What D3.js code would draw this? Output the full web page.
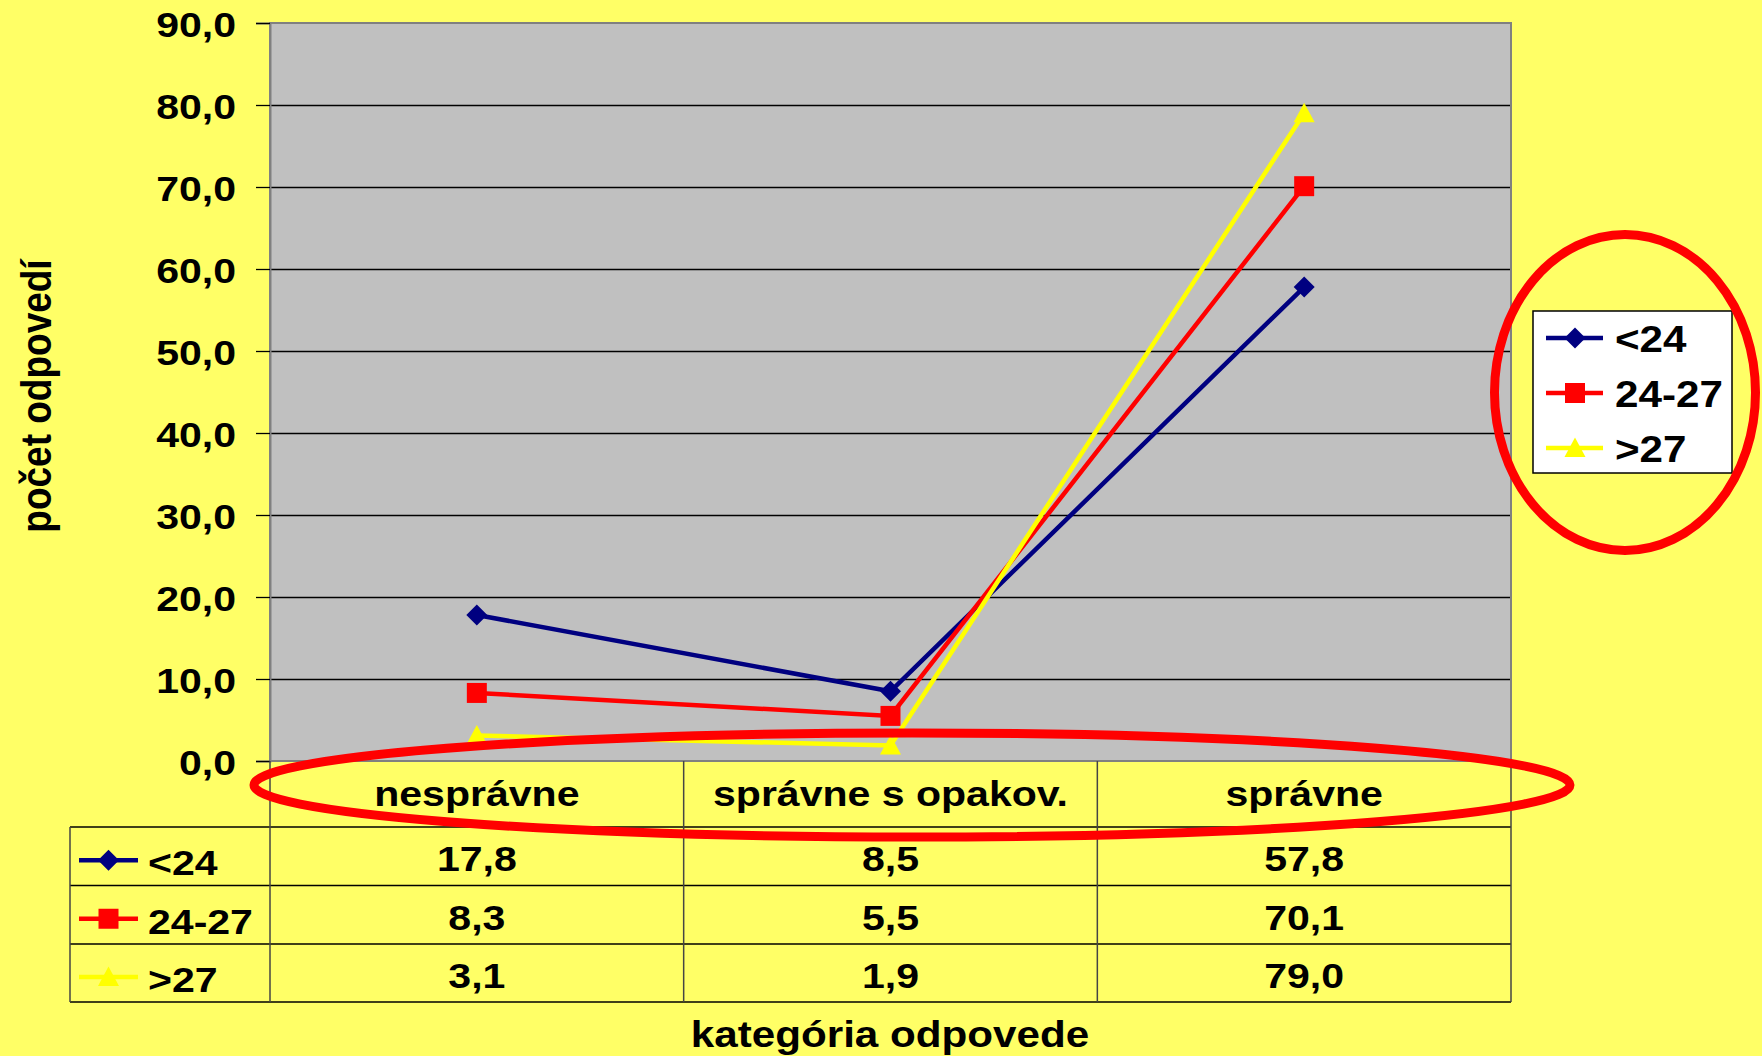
<!DOCTYPE html>
<meta charset="utf-8">
<style>
    body { margin: 0; background: #ffff66; }
    svg { display: block; }
    text { font-family: "Liberation Sans", Arial, sans-serif; font-weight: bold; fill: #000; }
</style>
<svg width="1762" height="1056"></svg>
<script src="https://d3js.org/d3.v7.min.js"></script>
<script>

    var categories = ["nesprávne", "správne s opakov.", "správne"];
    var seriesNames = ["<24", "24-27", ">27"];
    var valuesUnder24 = [17.8, 8.5, 57.8];
    var values24to27 = [8.3, 5.5, 70.1];
    var valuesOver27 = [3.1, 1.9, 79.0];
    var yTicks = [0, 10, 20, 30, 40, 50, 60, 70, 80, 90];

    var series = [
        {name: seriesNames[0], values: valuesUnder24, color: "#000080", shape: "diamond"},
        {name: seriesNames[1], values: values24to27, color: "#ff0000", shape: "square"},
        {name: seriesNames[2], values: valuesOver27, color: "#ffff00", shape: "triangle"}
    ];

    var svg = d3.select("svg");
    var SX = 1.14;   // text in the original is drawn a bit wider than normal
    var lineW = 4.5;

    var plotLeft = 270, plotRight = 1511, plotTop = 23, plotBottom = 761;
    var rowLines = [827, 885.5, 944, 1002];
    var tableLeft = 70;

    var x = d3.scaleBand().domain(categories).range([plotLeft, plotRight]);
    var y = d3.scaleLinear().domain([0, 90]).range([plotBottom, plotTop]);
    var fmt = function(v) { return d3.format(".1f")(v).replace(".", ","); };

    function stretch(sel) {
        sel.each(function() {
            var t = d3.select(this);
            var tx = +t.attr("x") || 0, ty = +t.attr("y") || 0;
            var extra = t.attr("data-rot") ? " rotate(" + t.attr("data-rot") + ")" : "";
            t.attr("x", 0).attr("y", 0)
                .attr("transform", "translate(" + tx + "," + ty + ") scale(" + SX + ",1)" + extra);
        });
    }

    function symbolPath(shape) {
        if (shape === "diamond") return "M0,-10.5L10.5,0L0,10.5L-10.5,0Z";
        if (shape === "square") return "M-10,-10H10V10H-10Z";
        return "M0,-10.5L10.5,9L-10.5,9Z";
    }

    // plot area
    svg.append("rect")
            .attr("x", plotLeft).attr("y", plotTop)
            .attr("width", plotRight - plotLeft).attr("height", plotBottom - plotTop)
            .attr("fill", "#c0c0c0");

    // grid lines
    svg.append("g")
            .attr("transform", "translate(" + plotLeft + ",0)")
            .call(d3.axisLeft(y).tickValues(yTicks.slice(1, -1)).tickSize(-(plotRight - plotLeft)).tickFormat(""))
            .call(function(g) { g.select(".domain").remove(); })
            .selectAll("line").attr("stroke", "#000").attr("stroke-width", 1.3);

    // plot border
    svg.append("rect")
            .attr("x", plotLeft).attr("y", plotTop)
            .attr("width", plotRight - plotLeft).attr("height", plotBottom - plotTop)
            .attr("fill", "none").attr("stroke", "#808080").attr("stroke-width", 2);

    // y axis ticks + labels
    var yAxis = svg.append("g")
            .attr("transform", "translate(" + plotLeft + ",0)")
            .call(d3.axisLeft(y).tickValues(yTicks).tickSize(14).tickPadding(20).tickFormat(fmt));
    yAxis.select(".domain").attr("stroke", "#808080").attr("stroke-width", 2);
    yAxis.selectAll("line").attr("stroke", "#000").attr("stroke-width", 1.3);
    yAxis.selectAll("text")
            .attr("font-size", 36).attr("dy", null).attr("y", 13)
            .call(stretch);

    // y title
    svg.append("text")
            .attr("x", 51).attr("y", 396).attr("data-rot", -90)
            .attr("text-anchor", "middle").attr("font-size", 37)
            .text("počet odpovedí")
            .call(stretch);

    // table lines
    var table = svg.append("g").attr("stroke", "#000").attr("stroke-width", 1.5);
    table.selectAll("line.h")
            .data(rowLines)
            .enter().append("line")
            .attr("x1", tableLeft).attr("x2", plotRight)
            .attr("y1", function(d) { return d; }).attr("y2", function(d) { return d; });
    var colEdges = [plotLeft].concat(categories.map(function(c) { return x(c) + x.bandwidth(); }));
    table.selectAll("line.v")
            .data(colEdges)
            .enter().append("line")
            .attr("stroke", "#444")
            .attr("x1", function(d) { return d; }).attr("x2", function(d) { return d; })
            .attr("y1", plotBottom).attr("y2", rowLines[3]);
    table.append("line")
            .attr("stroke", "#444")
            .attr("x1", tableLeft).attr("x2", tableLeft)
            .attr("y1", rowLines[0]).attr("y2", rowLines[3]);

    // category labels
    svg.append("g").selectAll("text")
            .data(categories)
            .enter().append("text")
            .attr("x", function(d) { return x(d) + x.bandwidth() / 2; })
            .attr("y", 806)
            .attr("text-anchor", "middle").attr("font-size", 36)
            .text(function(d) { return d; })
            .call(stretch);

    // table values and row legend keys
    series.forEach(function(s, i) {
        var rowMid = (rowLines[i] + rowLines[i + 1]) / 2;
        svg.append("g").selectAll("text")
                .data(s.values)
                .enter().append("text")
                .attr("x", function(d, j) { return x(categories[j]) + x.bandwidth() / 2; })
                .attr("y", rowMid + 15)
                .attr("text-anchor", "middle").attr("font-size", 36)
                .text(fmt)
                .call(stretch);

        var key = svg.append("g").attr("transform", "translate(0," + (rowMid + 4) + ")");
        key.append("line")
                .attr("x1", 79).attr("x2", 138)
                .attr("stroke", s.color).attr("stroke-width", lineW);
        key.append("path")
                .attr("transform", "translate(108.5,0)")
                .attr("d", symbolPath(s.shape)).attr("fill", s.color);
        svg.append("text")
                .attr("x", 148).attr("y", rowMid + 19)
                .attr("font-size", 36)
                .text(s.name)
                .call(stretch);
    });

    // x title
    svg.append("text")
            .attr("x", 890).attr("y", 1047)
            .attr("text-anchor", "middle").attr("font-size", 37)
            .text("kategória odpovede")
            .call(stretch);

    // lines + markers
    var line = d3.line()
            .x(function(d, j) { return x(categories[j]) + x.bandwidth() / 2; })
            .y(function(d) { return y(d); });

    series.forEach(function(s) {
        svg.append("path")
                .datum(s.values)
                .attr("d", line)
                .attr("fill", "none").attr("stroke", s.color).attr("stroke-width", lineW);
        svg.append("g").selectAll("path")
                .data(s.values)
                .enter().append("path")
                .attr("transform", function(d, j) {
                    return "translate(" + (x(categories[j]) + x.bandwidth() / 2) + "," + y(d) + ")";
                })
                .attr("d", symbolPath(s.shape))
                .attr("fill", s.color);
    });

    // legend
    var legend = svg.append("g");
    legend.append("rect")
            .attr("x", 1533).attr("y", 311).attr("width", 199).attr("height", 162)
            .attr("fill", "#fff").attr("stroke", "#000").attr("stroke-width", 1.5);
    series.forEach(function(s, i) {
        var cy = 338 + i * 55;
        legend.append("line")
                .attr("x1", 1546).attr("x2", 1603).attr("y1", cy).attr("y2", cy)
                .attr("stroke", s.color).attr("stroke-width", lineW);
        legend.append("path")
                .attr("transform", "translate(1575," + cy + ")")
                .attr("d", symbolPath(s.shape)).attr("fill", s.color);
        legend.append("text")
                .attr("x", 1615).attr("y", cy + 14)
                .attr("font-size", 37)
                .text(s.name)
                .call(stretch);
    });

    // red highlight ellipses
    svg.append("ellipse")
            .attr("cx", 912).attr("cy", 785).attr("rx", 658).attr("ry", 52)
            .attr("fill", "none").attr("stroke", "#ff0000").attr("stroke-width", 9);
    svg.append("ellipse")
            .attr("cx", 1625).attr("cy", 392.5).attr("rx", 130.5).attr("ry", 158)
            .attr("fill", "none").attr("stroke", "#ff0000").attr("stroke-width", 9);

</script>
